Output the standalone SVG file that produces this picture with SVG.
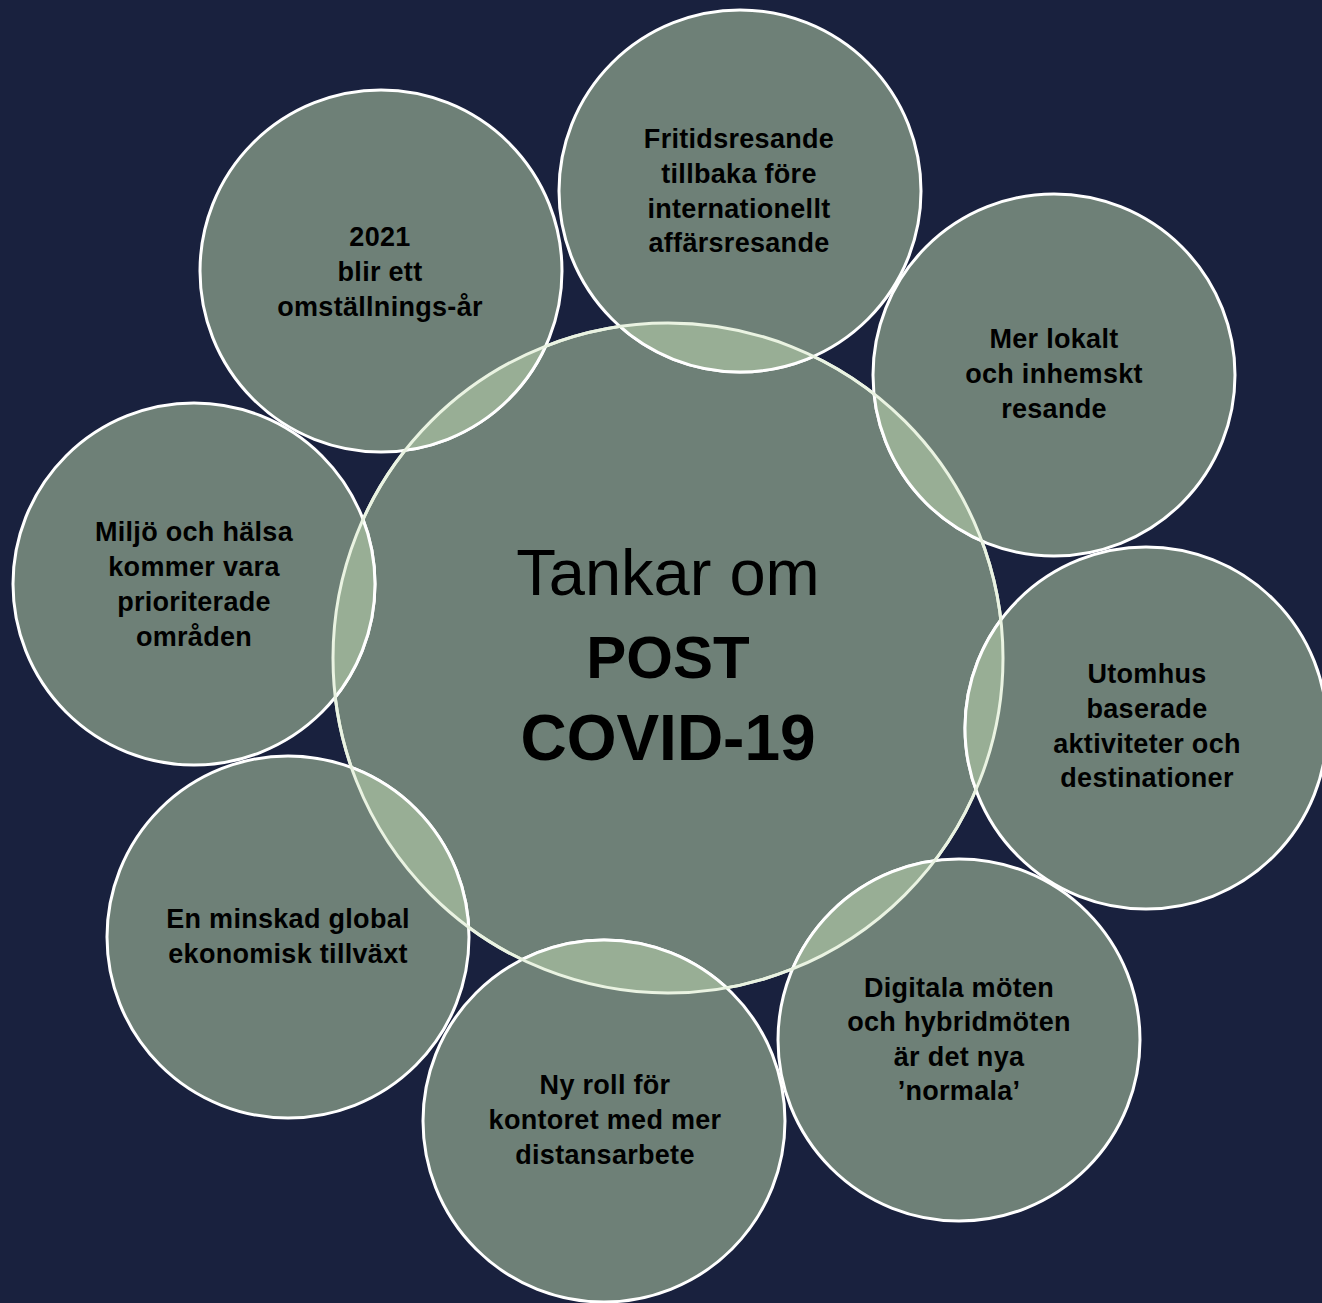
<svg xmlns="http://www.w3.org/2000/svg" xmlns:xlink="http://www.w3.org/1999/xlink" width="1322" height="1303" viewBox="0 0 1322 1303">
<style>
.bubble{fill:#6e8077;stroke:#ffffff;stroke-width:3}
.lens{fill:#98ae95;stroke:#ffffff;stroke-width:3}
.ring{fill:none;stroke:#eaf3e2;stroke-width:3}
.lbl{font-family:"Liberation Sans",Arial,sans-serif;font-weight:bold;font-size:27px;letter-spacing:0.3px;fill:#000;text-anchor:middle}
.title{font-family:"Liberation Sans",Arial,sans-serif;fill:#000;text-anchor:middle}
</style>
<defs>
<circle id="centerCircle" cx="668" cy="658" r="335"/>
<clipPath id="centerClip"><use xlink:href="#centerCircle"/></clipPath>
</defs>
<rect width="1322" height="1303" fill="#19213e"/>
<g id="node-center">
<circle cx="668" cy="658" r="335" fill="#6e8077" stroke="#eaf3e2" stroke-width="3"/>
<text class="title" x="668" y="595" font-size="65">Tankar om</text>
<text class="title" x="668" y="678" font-size="60" font-weight="bold">POST</text>
<text class="title" x="668" y="760" font-size="64" font-weight="bold">COVID-19</text>
</g>
<g id="node-fritid">
<circle class="bubble" cx="740" cy="191" r="181"/>
<circle class="lens" cx="740" cy="191" r="181" clip-path="url(#centerClip)"/>
<text class="lbl" x="739" y="148">Fritidsresande</text>
<text class="lbl" x="739" y="183">tillbaka före</text>
<text class="lbl" x="739" y="218">internationellt</text>
<text class="lbl" x="739" y="252">affärsresande</text>
</g>
<g id="node-2021">
<circle class="bubble" cx="381" cy="271" r="181"/>
<circle class="lens" cx="381" cy="271" r="181" clip-path="url(#centerClip)"/>
<text class="lbl" x="380" y="246">2021</text>
<text class="lbl" x="380" y="281">blir ett</text>
<text class="lbl" x="380" y="316">omställnings-år</text>
</g>
<g id="node-lokalt">
<circle class="bubble" cx="1054" cy="375" r="181"/>
<circle class="lens" cx="1054" cy="375" r="181" clip-path="url(#centerClip)"/>
<text class="lbl" x="1054" y="348">Mer lokalt</text>
<text class="lbl" x="1054" y="383">och inhemskt</text>
<text class="lbl" x="1054" y="418">resande</text>
</g>
<g id="node-utomhus">
<circle class="bubble" cx="1146" cy="728" r="181"/>
<circle class="lens" cx="1146" cy="728" r="181" clip-path="url(#centerClip)"/>
<text class="lbl" x="1147" y="683">Utomhus</text>
<text class="lbl" x="1147" y="718">baserade</text>
<text class="lbl" x="1147" y="753">aktiviteter och</text>
<text class="lbl" x="1147" y="787">destinationer</text>
</g>
<g id="node-digitala">
<circle class="bubble" cx="959" cy="1040" r="181"/>
<circle class="lens" cx="959" cy="1040" r="181" clip-path="url(#centerClip)"/>
<text class="lbl" x="959" y="997">Digitala möten</text>
<text class="lbl" x="959" y="1031">och hybridmöten</text>
<text class="lbl" x="959" y="1066">är det nya</text>
<text class="lbl" x="959" y="1100">’normala’</text>
</g>
<g id="node-nyroll">
<circle class="bubble" cx="604" cy="1121" r="181"/>
<circle class="lens" cx="604" cy="1121" r="181" clip-path="url(#centerClip)"/>
<text class="lbl" x="605" y="1094">Ny roll för</text>
<text class="lbl" x="605" y="1129">kontoret med mer</text>
<text class="lbl" x="605" y="1164">distansarbete</text>
</g>
<g id="node-minskad">
<circle class="bubble" cx="288" cy="937" r="181"/>
<circle class="lens" cx="288" cy="937" r="181" clip-path="url(#centerClip)"/>
<text class="lbl" x="288" y="928">En minskad global</text>
<text class="lbl" x="288" y="963">ekonomisk tillväxt</text>
</g>
<g id="node-miljo">
<circle class="bubble" cx="194" cy="584" r="181"/>
<circle class="lens" cx="194" cy="584" r="181" clip-path="url(#centerClip)"/>
<text class="lbl" x="194" y="541">Miljö och hälsa</text>
<text class="lbl" x="194" y="576">kommer vara</text>
<text class="lbl" x="194" y="611">prioriterade</text>
<text class="lbl" x="194" y="646">områden</text>
</g>
<g id="connectors"></g>
<g id="center-ring-overlay">
<use xlink:href="#centerCircle" class="ring"/>
</g>
</svg>
